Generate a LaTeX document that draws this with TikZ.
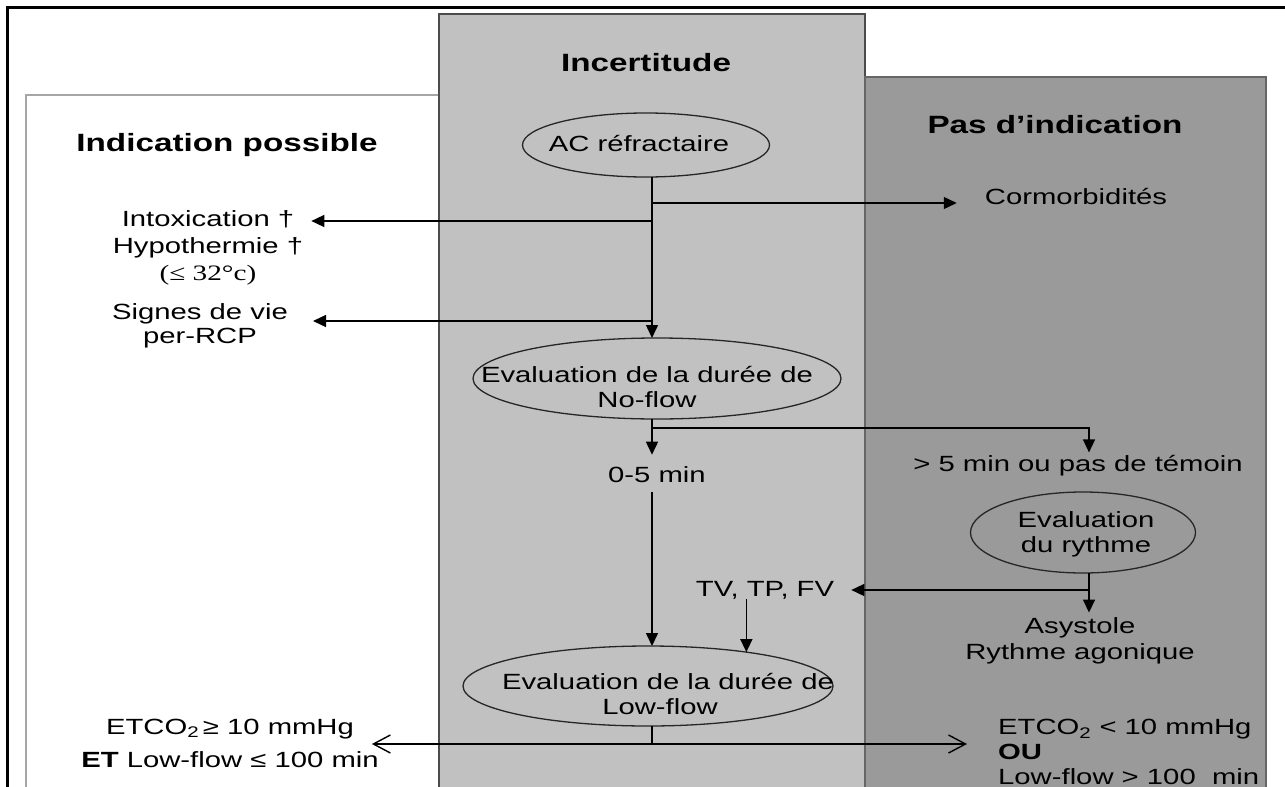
\documentclass[tikz,border=0pt]{standalone}
\usepackage{fontspec}
\setmainfont{Liberation Sans}[FakeStretch=1.33]
\newfontfamily\serifx{Liberation Serif}[FakeStretch=1.33]
\usetikzlibrary{arrows.meta,shapes.geometric}
\definecolor{lgray}{HTML}{C1C1C1}
\definecolor{dgray}{HTML}{9A9A9A}
% text placed in an ellipse without changing its size: raise, doubled x-shift, lines
\newcommand{\inell}[3]{\raisebox{#1}[0pt][0pt]{\makebox[0pt]{\kern#2\begin{tabular}[b]{@{}c@{}}#3\end{tabular}}}}
\begin{document}
\begin{tikzpicture}[x=1pt,y=-1pt,
  txt/.style={font=\fontsize{22}{26}\selectfont, inner sep=0pt, text=black},
  ttl/.style={font=\fontsize{25}{30}\selectfont\bfseries, inner sep=0pt, text=black},
  ell/.style={ellipse, draw=black!85, line width=1.3pt, inner sep=0pt, outer sep=0pt,
              font=\fontsize{22}{25}\selectfont},
  ln/.style={line width=1.5pt},
  arr/.style={line width=1.5pt, -{Triangle[length=13pt,width=12pt]}},
  oarr/.style={line width=1.3pt, -{Straight Barb[length=17pt,width=18pt,line width=1.4pt]}}]
\useasboundingbox (0,0) rectangle (1285,787);
\clip (0,0) rectangle (1285,787);
\fill[white] (0,0) rectangle (1285,787);
% columns
\draw[black!35, line width=2pt] (26,800) -- (26,95) -- (439,95);
\draw[fill=lgray, draw=black!70, line width=1.5pt] (439,800) -- (439,14) -- (865,14) -- (865,800);
\draw[fill=dgray, draw=black!60, line width=1.5pt] (865,800) -- (865,77) -- (1266,77) -- (1266,800);
\draw[line width=3pt] (7,800) -- (7,7) -- (1290,7);
% titles
\node[ttl] (indic) at (227,145) {Indication possible};
\node[ttl] (incert) at (646,63) {Incertitude};
\node[ttl] (pasind) at (1055,125) {Pas d’indication};
% ellipses
\node[ell, minimum width=247pt, minimum height=64pt] (ac) at (646,145)
  {\inell{-6pt}{-14pt}{AC réfractaire}};
\node[ell, minimum width=368pt, minimum height=81pt] (nf) at (657,378.5)
  {\inell{-28.5pt}{-20pt}{Evaluation de la durée de\\No-flow}};
\node[ell, minimum width=225pt, minimum height=81pt] (ryth) at (1083,532.5)
  {\inell{-19.5pt}{6pt}{Evaluation\\du rythme}};
\node[ell, minimum width=370pt, minimum height=80pt] (lf) at (648,686)
  {\inell{-28pt}{40pt}{Evaluation de la durée de\\\hspace*{-16pt}Low-flow}};
% texts
\node[txt] (corm) at (1076,197) {Cormorbidités};
\node[txt, align=center, font=\fontsize{22}{27}\selectfont] (intox) at (208,248)
  {Intoxication †\\Hypothermie †\\{\serifx(≤ 32°c)}};
\node[txt, align=center, font=\fontsize{22}{24}\selectfont] (signes) at (200,326) {Signes de vie\\per-RCP};
\node[txt] (zero) at (657,475) {0-5 min};
\node[txt] (gt5) at (1078,466) {> 5 min ou pas de témoin};
\node[txt] (tvtp) at (765,590) {TV, TP, FV};
\node[txt, align=center] (asys) at (1080,641) {Asystole\\Rythme agonique};
\node[txt, align=center] (etl) at (230,743)
  {ETCO\textsubscript{2}\,≥ 10 mmHg\\[7pt]\textbf{ET} Low-flow ≤ 100 min};
\node[txt, align=left, anchor=west, font=\fontsize{22}{25}\selectfont] (etr) at (998,752)
  {ETCO\textsubscript{2} < 10 mmHg\\\textbf{OU}\\Low-flow > 100~~min};
% connectors
\coordinate (T) at (652,0);
\coordinate (b1) at (652,203);
\coordinate (b2) at (652,221);
\coordinate (b3) at (652,321);
\coordinate (b4) at (652,428);
\coordinate (b5) at (1089,590);
\coordinate (b6) at (652,744);
\draw[arr] (ac.south -| T) -- (nf.north -| T);
\draw[arr, shorten >=28pt] (b1) -- (corm.west |- b1);
\draw[arr, shorten >=8pt] (b2) -- (intox.east |- b2);
\draw[arr, shorten >=25pt] (b3) -- (signes.east |- b3);
\draw[ln] (nf.south -| T) -- (b4);
\draw[arr, shorten >=12pt] (b4) -- (zero.north -| T);
\draw[arr, shorten >=3pt] (b4) -| (gt5.north -| b5);
\draw[arr, shorten <=9pt] (zero.south -| T) -- (lf.north -| T);
\draw[ln] (ryth.south -| b5) -- (b5);
\draw[arr, shorten >=5pt] (b5) -- (asys.north -| b5);
\draw[arr, shorten >=17pt] (b5) -- (tvtp.east);
\draw[arr] (tvtp.south -| lf.19) -- (lf.19);
\draw[ln] (lf.south -| T) -- (b6);
\draw[oarr, shorten >=-7pt] (b6) -- (etl.east |- b6);
\draw[oarr, shorten >=31pt] (b6) -- (etr.west |- b6);
\end{tikzpicture}
\end{document}
